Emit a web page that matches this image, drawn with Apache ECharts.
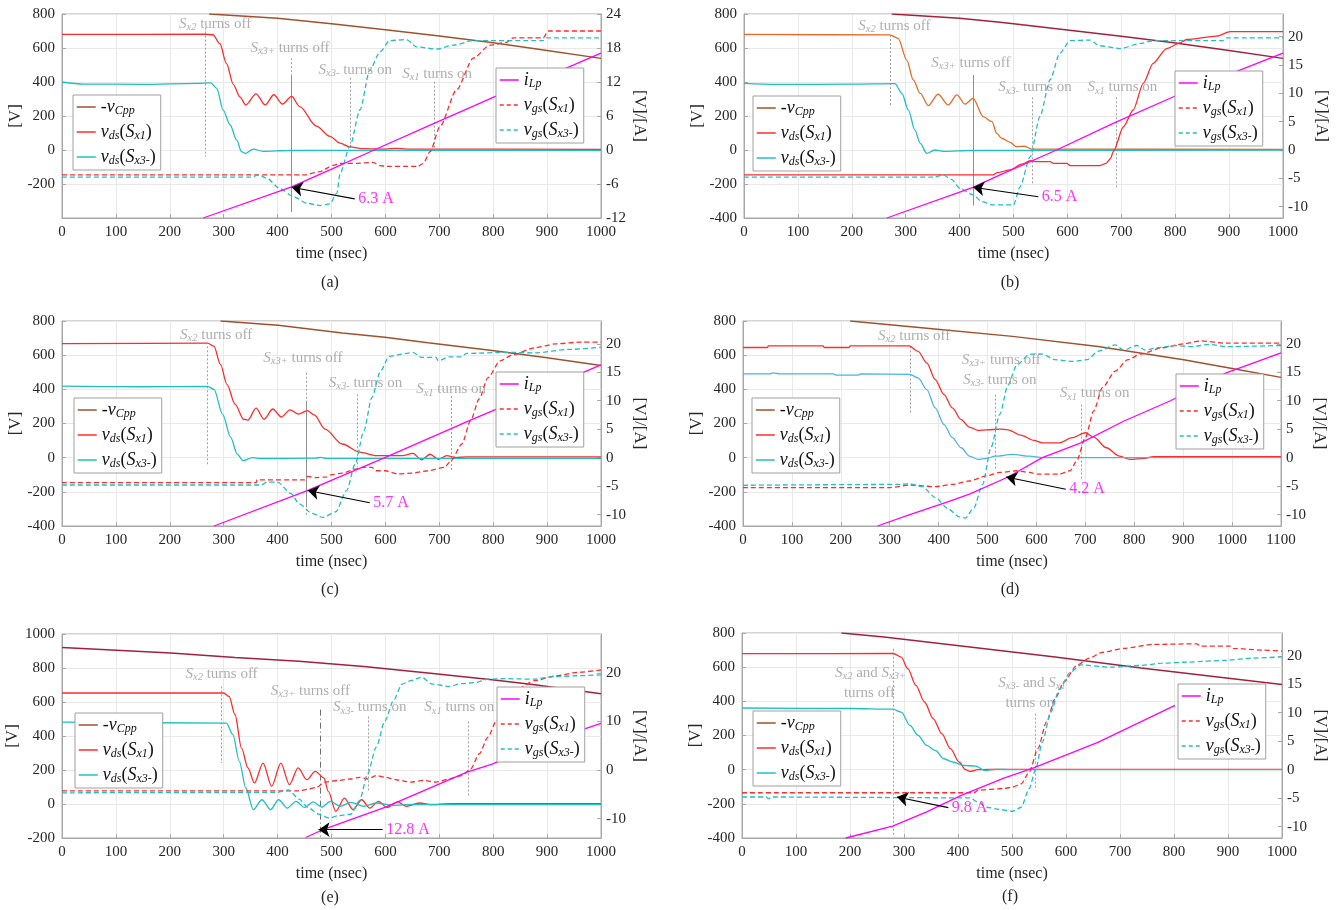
<!DOCTYPE html>
<html><head><meta charset="utf-8">
<script src="https://cdn.jsdelivr.net/npm/echarts@6/dist/echarts.min.js"></script>
<style>html,body{margin:0;padding:0;background:#fff}#c{width:1340px;height:910px}</style>
</head><body><div id="c"></div>
<script>
// ================= DATA =================
// tick labels
const X_TICKS_1000 = [0,100,200,300,400,500,600,700,800,900,1000];
const X_TICKS_1100 = [0,100,200,300,400,500,600,700,800,900,1000,1100];
const LEFT_TICKS_A = [-200,0,200,400,600,800];
const LEFT_TICKS_STD = [-400,-200,0,200,400,600,800];
const LEFT_TICKS_E = [-200,0,200,400,600,800,1000];
const RIGHT_TICKS_A = [-12,-6,0,6,12,18,24];
const RIGHT_TICKS_5 = [-10,-5,0,5,10,15,20];
const RIGHT_TICKS_E = [-10,0,10,20];

// ---- panel (a) ----  [time ns, value]
const A_VCPP = [[273,800],[400,775],[500,742],[600,707],[700,670],[800,631],[900,585],[1000,539]];
const A_VDS1 = [[0,680],[265,681],[280,678],[293,625],[305,510],[318,385],[330,313],[341,265],[360,330],[377,265],[393,325],[409,270],[426,315],[441,255],[472,140],[497,80],[516,40],[534,18],[560,8],[600,5],[620,10],[640,5],[1000,4]];
const A_VDS3 = [[0,400],[40,388],[150,386],[250,392],[276,395],[287,363],[299,235],[312,147],[324,59],[333,-10],[340,-20],[355,5],[373,-8],[420,-3],[600,-2],[1000,-2]];
const A_ILP  = [[262,-12],[426,-6.5],[497,-3.5],[579,0],[683,4.4],[800,9.3],[942,14.7],[1000,17.1]];
const A_VGS1 = [[0,-4.4],[450,-4.4],[479,-3.8],[503,-2.7],[516,-2.35],[547,-2.35],[577,-2.2],[590,-2.75],[602,-2.9],[660,-2.9],[670,-2.4],[683,-0.3],[701,4.1],[732,10.6],[763,16.2],[794,18.5],[825,19.0],[837,19.8],[893,19.8],[902,21.0],[1000,21.0]];
const A_VGS3 = [[0,-4.8],[350,-4.8],[365,-4.4],[380,-5.0],[404,-6.8],[429,-8.2],[454,-9.4],[479,-9.8],[497,-9.5],[510,-7.6],[516,-4.1],[534,0.6],[553,7.1],[571,14.1],[590,17.3],[608,19.3],[639,19.5],[658,18.2],[695,17.8],[726,18.5],[763,19.3],[893,19.3],[899,19.8],[1000,19.8]];
const A_MARKS = [[265,720,-40,'dot'],[426,540,440,'dot'],[426,440,-365,'solid'],[535,425,0,'dot'],[690,402,0,'dot']];
const A_NOTES = [[284,741,'x2off'],[423,600,'x3poff'],[544,470,'x3mon'],[696,447,'x1on']];
const A_ARROW = [[543,-288],[426,-219]];
const A_AMP = '6.3 A';

// ---- panel (b) ----
const B_VCPP = [[274,800],[400,775],[475,751],[500,742],[600,706],[700,669],[797,631],[900,585],[1000,539]];
const B_VDS1 = [[0,680],[271,677],[286,657],[302,529],[314,412],[327,333],[342,261],[360,328],[379,265],[395,324],[410,270],[425,304],[444,196],[460,167],[469,98],[478,69],[494,45],[505,20],[520,22],[535,5],[1000,3]];
const B_VDS3 = [[0,392],[60,386],[200,387],[280,390],[293,333],[305,235],[317,118],[327,39],[339,-20],[354,0],[370,-8],[420,-3],[1000,-1]];
const B_ILP  = [[265,-12],[425,-6.6],[475,-4.4],[580,0],[685,4.7],[797,9.4],[920,14.1],[1000,17.1]];
const B_VGS1 = [[0,-4.4],[462,-4.4],[470,-4.0],[494,-3.5],[515,-2.5],[531,-1.9],[540,-2.06],[568,-2.06],[574,-2.35],[599,-2.35],[605,-2.76],[660,-2.76],[672,-2.35],[680,-1.5],[685,-0.3],[704,4.1],[722,7.06],[741,11.8],[759,15.3],[784,17.9],[809,18.9],[821,19.5],[877,20.1],[902,20.9],[1000,20.9]];
const B_VGS3 = [[0,-4.8],[351,-4.8],[370,-4.4],[385,-5.2],[401,-6.8],[425,-7.9],[441,-9.1],[462,-9.7],[500,-9.7],[512,-6.5],[531,-1.2],[549,5.9],[568,12.4],[586,17.1],[605,19.3],[642,19.4],[660,18.4],[698,17.9],[735,18.8],[760,19.3],[890,19.3],[895,19.8],[1000,19.8]];
const B_MARKS = [[271,676,255,'dot'],[425,441,-327,'solid'],[535,310,-196,'dot'],[690,310,-219,'dot']];
const B_NOTES = [[279,729,'x2off'],[421,513,'x3poff'],[540,369,'x3mon'],[702,369,'x1on']];
const B_ARROW = [[546,-275],[425,-219]];
const B_AMP = '6.5 A';

// ---- panel (c) ----
const C_VCPP = [[294,800],[401,775],[520,730],[599,705],[679,672],[798,627],[900,585],[1000,540]];
const C_VDS1 = [[0,668],[270,670],[282,652],[294,546],[306,429],[321,313],[337,225],[345,220],[360,290],[375,225],[391,285],[407,238],[423,280],[439,255],[455,275],[468,250],[488,167],[520,80],[552,33],[583,12],[631,12],[651,25],[667,-13],[683,20],[698,-10],[714,12],[730,0],[750,5],[1000,5]];
const C_VDS3 = [[0,419],[150,415],[270,417],[282,400],[298,254],[313,119],[325,21],[336,-17],[353,0],[370,-5],[470,-3],[480,2],[490,-4],[1000,-4]];
const C_ILP  = [[282,-12],[455,-5.8],[599,0],[758,6.6],[1000,16.3]];
const C_VGS1 = [[0,-4.4],[360,-4.4],[362,-3.9],[450,-3.9],[456,-3.3],[470,-3.5],[490,-3.4],[500,-3.0],[520,-2.7],[545,-2.0],[555,-1.7],[575,-1.7],[583,-2.3],[600,-2.3],[623,-2.85],[650,-2.7],[679,-2.3],[710,-1.7],[722,-0.5],[742,2.4],[758,6.5],[774,10.3],[790,14.0],[813,17.0],[837,18.1],[877,19.3],[917,20.0],[964,20.3],[1000,20.3]];
const C_VGS3 = [[0,-4.8],[370,-4.8],[380,-4.3],[400,-4.3],[425,-6.3],[440,-8.1],[464,-9.8],[484,-10.5],[508,-9.5],[528,-5.8],[544,-1.1],[560,4.7],[575,10.6],[591,15.2],[607,17.8],[639,18.3],[651,18.5],[667,17.6],[694,17.6],[698,17.0],[718,17.7],[742,17.7],[750,18.3],[829,18.5],[877,18.4],[940,19.0],[1000,19.4]];
const C_MARKS = [[269,652,-47,'dot'],[454,497,-338,'dot'],[454,332,-289,'solid'],[548,371,-56,'dot'],[722,361,-76,'dot']];
const C_NOTES = [[286,720,'x2off'],[447,585,'x3poff'],[563,439,'x3mon'],[722,400,'x1on']];
const C_ARROW = [[571,-264],[456,-192]];
const C_AMP = '5.7 A';

// ---- panel (d) ----
const D_VCPP = [[219,800],[376,758],[551,710],[726,651],[901,573],[1000,522],[1100,470]];
const D_VDS1 = [[0,645],[50,645],[52,654],[164,654],[166,645],[217,645],[219,654],[340,654],[358,622],[376,554],[393,457],[411,369],[428,292],[446,223],[463,179],[481,159],[498,163],[525,167],[542,163],[568,132],[595,101],[612,87],[647,87],[673,117],[700,146],[717,120],[743,58],[770,9],[791,-10],[822,-4],[839,6],[1100,6]];
const D_VDS3 = [[0,490],[55,490],[61,496],[75,490],[185,490],[192,483],[236,483],[240,490],[341,488],[358,467],[376,398],[393,292],[411,194],[428,117],[446,58],[463,9],[481,-10],[498,-4],[516,9],[551,19],[586,9],[612,0],[1100,0]];
const D_ILP  = [[275,-12],[341,-10],[420,-7.7],[463,-6.4],[542,-3.4],[612,0],[691,2.6],[778,6.4],[874,10.0],[988,14.9],[1100,18.4]];
const D_VGS1 = [[0,-5.25],[300,-5.25],[341,-4.8],[393,-5.1],[428,-4.7],[463,-4.1],[498,-3.2],[525,-2.6],[560,-2.3],[586,-2.6],[603,-2.9],[647,-2.9],[669,-2.3],[682,-0.6],[700,3.5],[717,8.2],[735,12.3],[761,15.2],[787,17.2],[813,18.2],[857,19.3],[901,20.0],[936,20.5],[988,20.1],[1100,20.1]];
const D_VGS3 = [[0,-4.85],[315,-4.7],[341,-4.6],[367,-5.1],[393,-7.0],[420,-9.0],[442,-10.4],[455,-10.6],[472,-8.8],[490,-4.7],[507,1.75],[525,7.6],[542,12.8],[560,16.3],[586,18.2],[612,18.2],[638,17.2],[673,16.9],[704,17.2],[726,18.7],[761,19.8],[778,18.9],[805,19.7],[822,18.9],[848,19.3],[883,19.7],[918,19.5],[953,19.9],[988,19.5],[1100,19.7]];
const D_MARKS = [[341,651,253,'dot'],[516,369,-78,'dot'],[691,311,-127,'dot']];
const D_NOTES = [[350,712,'x2off'],[528,571,'x3poff'],[525,454,'x3mon'],[719,376,'x1on']];
const D_ARROW = [[660,-185],[538,-113]];
const D_AMP = '4.2 A';

// ---- panel (e) ----
const E_VCPP = [[0,921],[83,908],[202,888],[321,862],[440,839],[560,809],[679,770],[798,731],[877,702],[1000,649]];
const E_VDS1 = [[0,653],[300,653],[310,633],[321,525],[333,329],[345,212],[357,124],[373,241],[389,104],[406,241],[422,114],[438,212],[454,143],[470,192],[486,153],[494,74],[508,-43],[524,35],[540,-33],[556,25],[571,-24],[587,16],[603,-20],[623,12],[639,-14],[663,6],[687,-4],[720,2],[1000,2]];
const E_VDS3 = [[0,482],[305,476],[317,408],[329,251],[341,94],[355,-33],[371,25],[387,-33],[402,25],[418,-24],[434,16],[450,-20],[466,12],[482,-18],[498,16],[516,-14],[536,10],[560,-14],[583,6],[615,-8],[650,-3],[1000,-3]];
const E_ILP  = [[452,-13.9],[488,-12.1],[599,-7.7],[679,-3.9],[750,-0.5],[798,1.2],[877,5.0],[1000,9.6]];
const E_VGS1 = [[0,-4.3],[440,-4.3],[455,-4.0],[472,-3.6],[488,-2.5],[512,-2.15],[536,-1.85],[552,-1.5],[567,-1.85],[583,-1.16],[599,-1.5],[623,-2.06],[647,-2.5],[671,-2.15],[694,-2.5],[718,-1.85],[742,-1.16],[758,0.2],[774,3.3],[790,6.7],[806,10.1],[821,13.6],[845,16.7],[877,18.4],[917,19.4],[956,20.1],[1000,20.6]];
const E_VGS3 = [[0,-4.7],[400,-4.6],[420,-4.1],[440,-6.0],[456,-7.7],[476,-9.1],[496,-9.9],[512,-9.4],[536,-9.1],[552,-6.3],[567,-0.8],[583,4.7],[599,10.1],[615,14.3],[631,17.7],[647,18.4],[667,19.1],[687,17.7],[718,17.2],[742,17.8],[766,18.0],[790,18.7],[821,18.8],[877,18.7],[909,19.2],[956,19.4],[1000,19.6]];
const E_MARKS = [[296,692,241,'dot'],[479,555,-200,'dash'],[569,515,74,'dot'],[754,486,45,'dot']];
const E_NOTES = [[296,766,'x2off'],[461,667,'x3poff'],[571,569,'x3mon'],[737,569,'x1on']];
const E_ARROW = [[595,-151],[476,-151]];
const E_AMP = '12.8 A';

// ---- panel (f) ----
const F_VCPP = [[184,800],[263,776],[422,718],[580,659],[739,595],[897,536],[1000,498]];
const F_VDS1 = [[0,679],[280,680],[295,659],[307,591],[322,494],[338,396],[354,299],[370,211],[386,123],[402,45],[414,0],[422,-10],[437,0],[480,2],[1000,2]];
const F_VDS3 = [[0,361],[200,358],[279,354],[295,337],[311,259],[326,201],[342,142],[358,113],[374,64],[390,45],[410,25],[433,21],[449,-4],[469,2],[500,0],[1000,0]];
const F_ILP  = [[192,-12],[279,-9.9],[342,-7.4],[406,-4.5],[485,-1.5],[540,0.3],[659,4.8],[802,11.3]];
const F_VGS1 = [[0,-4.05],[430,-4.05],[437,-3.6],[485,-3.3],[501,-3.05],[517,-2.5],[532,-0.4],[548,3.7],[564,8.4],[580,12.5],[596,15.4],[620,18.3],[643,19.6],[667,20.6],[707,21.3],[762,22.0],[842,22.1],[849,21.7],[905,21.7],[909,21.3],[964,21.0],[1000,20.8]];
const F_VGS3 = [[0,-4.8],[45,-4.8],[49,-5.1],[55,-4.8],[422,-4.95],[437,-5.7],[453,-6.6],[477,-7.0],[501,-7.3],[517,-6.6],[532,-3.3],[544,0.1],[556,4.8],[572,10.1],[588,14.2],[608,17.1],[628,18.4],[683,18.0],[739,18.3],[778,18.7],[826,18.9],[897,19.2],[945,19.6],[1000,19.8]];
const F_MARKS = [[281,708,-385,'dot'],[543,328,-121,'dot']];
const F_NOTES = [[238,567,'x2x3off'],[236,450,'toff'],[537,508,'x3x1on'],[533,391,'ton']];
const F_ARROW = [[382,-222],[287,-160]];
const F_AMP = '9.8 A';

// ================= STYLE / LAYOUT =================
const FONT = "'Liberation Serif', 'Times New Roman', serif";
const AXC = '#a8a8a8', GRIDC = '#e9e9e9', TXT = '#262626', GRAY = '#9a9a9a';
const COL = {brown:'#a0522d', maroon:'#a3213c', red:'#ff2b2b', orange:'#e8692a', cyan:'#1fbfc4', sky:'#4db3e6', mag:'#ff00ff'};

const PANELS = [
 {k:'a', grid:{left:62,top:14,width:539,height:204}, xMax:1000, xT:X_TICKS_1000, yL:[-400,800], yLT:LEFT_TICKS_A, yR:[-12,24], yRT:RIGHT_TICKS_A,
  cap:[330,283], legL:[73,95], legR:[496,68], col:{vcpp:COL.brown, vds1:COL.red, vds3:COL.cyan}, vgs1Solid:false,
  s:{vcpp:A_VCPP, vds1:A_VDS1, vds3:A_VDS3, ilp:A_ILP, vgs1:A_VGS1, vgs3:A_VGS3}, marks:A_MARKS, notes:A_NOTES, arrow:A_ARROW, amp:A_AMP},
 {k:'b', grid:{left:744,top:14,width:539,height:204}, xMax:1000, xT:X_TICKS_1000, yL:[-400,800], yLT:LEFT_TICKS_STD, yR:[-12,24], yRT:RIGHT_TICKS_5,
  cap:[1010,283], legL:[753,96], legR:[1175,71], col:{vcpp:COL.maroon, vds1:COL.orange, vds3:COL.cyan}, vgs1Solid:true,
  s:{vcpp:B_VCPP, vds1:B_VDS1, vds3:B_VDS3, ilp:B_ILP, vgs1:B_VGS1, vgs3:B_VGS3}, marks:B_MARKS, notes:B_NOTES, arrow:B_ARROW, amp:B_AMP},
 {k:'c', grid:{left:62,top:321,width:539,height:205}, xMax:1000, xT:X_TICKS_1000, yL:[-400,800], yLT:LEFT_TICKS_STD, yR:[-12,24], yRT:RIGHT_TICKS_5,
  cap:[330,590], legL:[74,398], legR:[496,372], col:{vcpp:COL.brown, vds1:COL.red, vds3:COL.cyan}, vgs1Solid:false,
  s:{vcpp:C_VCPP, vds1:C_VDS1, vds3:C_VDS3, ilp:C_ILP, vgs1:C_VGS1, vgs3:C_VGS3}, marks:C_MARKS, notes:C_NOTES, arrow:C_ARROW, amp:C_AMP},
 {k:'d', grid:{left:743,top:321,width:538,height:205}, xMax:1100, xT:X_TICKS_1100, yL:[-400,800], yLT:LEFT_TICKS_STD, yR:[-12,24], yRT:RIGHT_TICKS_5,
  cap:[1010,590], legL:[752,398], legR:[1176,374], col:{vcpp:COL.brown, vds1:COL.red, vds3:COL.sky}, vgs1Solid:false,
  s:{vcpp:D_VCPP, vds1:D_VDS1, vds3:D_VDS3, ilp:D_ILP, vgs1:D_VGS1, vgs3:D_VGS3}, marks:D_MARKS, notes:D_NOTES, arrow:D_ARROW, amp:D_AMP},
 {k:'e', grid:{left:62,top:634,width:539,height:204}, xMax:1000, xT:X_TICKS_1000, yL:[-200,1000], yLT:LEFT_TICKS_E, yR:[-14,28], yRT:RIGHT_TICKS_E,
  cap:[330,898], legL:[75,713], legR:[497,687], col:{vcpp:COL.maroon, vds1:COL.red, vds3:COL.cyan}, vgs1Solid:false,
  s:{vcpp:E_VCPP, vds1:E_VDS1, vds3:E_VDS3, ilp:E_ILP, vgs1:E_VGS1, vgs3:E_VGS3}, marks:E_MARKS, notes:E_NOTES, arrow:E_ARROW, amp:E_AMP},
 {k:'f', grid:{left:742,top:633,width:540,height:205}, xMax:1000, xT:X_TICKS_1000, yL:[-400,800], yLT:LEFT_TICKS_STD, yR:[-12,24], yRT:RIGHT_TICKS_5,
  cap:[1010,897], legL:[753,711], legR:[1178,684], col:{vcpp:COL.maroon, vds1:COL.red, vds3:COL.cyan}, vgs1Solid:false,
  s:{vcpp:F_VCPP, vds1:F_VDS1, vds3:F_VDS3, ilp:F_ILP, vgs1:F_VGS1, vgs3:F_VGS3}, marks:F_MARKS, notes:F_NOTES, arrow:F_ARROW, amp:F_AMP}
];

const ANN_TXT = {
  x2off:'{g|S}{gs|x2}{gn| turns off}', x3poff:'{g|S}{gs|x3+}{gn| turns off}',
  x3mon:'{g|S}{gs|x3-}{gn| turns on}', x1on:'{g|S}{gs|x1}{gn| turns on}',
  x2x3off:'{g|S}{gs|x2}{gn| and }{g|S}{gs|x3+}', toff:'{gn|turns off}',
  x3x1on:'{g|S}{gs|x3-}{gn| and }{g|S}{gs|x1}', ton:'{gn|turns on}'
};
const RICH_GRAY = {
  g:{fontFamily:FONT, fontStyle:'italic', fontSize:15, color:GRAY, lineHeight:18},
  gs:{fontFamily:FONT, fontStyle:'italic', fontSize:10.5, color:GRAY, lineHeight:9, verticalAlign:'bottom'},
  gn:{fontFamily:FONT, fontSize:15, color:GRAY, lineHeight:18}
};
const LEG_TXT = {
  vcpp:'{n|-}{v|v}{s|Cpp}',
  vds1:'{v|v}{s|ds}{n|(}{v|S}{s|x1}{n|)}',
  vds3:'{v|v}{s|ds}{n|(}{v|S}{s|x3-}{n|)}',
  ilp:'{v|i}{s|Lp}',
  vgs1:'{v|v}{s|gs}{n|(}{v|S}{s|x1}{n|)}',
  vgs3:'{v|v}{s|gs}{n|(}{v|S}{s|x3-}{n|)}'
};
const RICH_LEG = {
  v:{fontFamily:FONT, fontStyle:'italic', fontSize:18, color:'#111', lineHeight:20},
  n:{fontFamily:FONT, fontSize:18, color:'#111', lineHeight:20},
  s:{fontFamily:FONT, fontStyle:'italic', fontSize:12, color:'#111', lineHeight:10, verticalAlign:'bottom'}
};
const LEG_STYLE = {
  vcpp:{color:COL.brown, width:1.5, type:'solid'},
  vds1:{color:COL.red, width:1.5, type:'solid'},
  vds3:{color:COL.cyan, width:1.5, type:'solid'},
  ilp:{color:COL.mag, width:1.5, type:'solid'},
  vgs1:{color:COL.red, width:1.5, type:[4,3]},
  vgs3:{color:COL.cyan, width:1.5, type:[4,3]}
};
const MARK_STYLE = {
  dot:{type:[2,2], color:'#a0a0a0', width:1, opacity:1},
  solid:{type:'solid', color:'#909090', width:1, opacity:1},
  dash:{type:[6,3,1,3], color:'#6f6f6f', width:1, opacity:1}
};

// ================= BUILD =================
const grids=[], xAxes=[], yAxes=[], series=[], legends=[], graphics=[];
const axisFont = {fontFamily:FONT, fontSize:15, color:TXT, formatter:v=>String(v)};

PANELS.forEach((p,i)=>{
  grids.push(Object.assign({show:true, borderColor:AXC, borderWidth:1, backgroundColor:'#fff', outerBoundsMode:'none', containLabel:false}, p.grid));
  xAxes.push({type:'value', gridIndex:i, min:0, max:p.xMax, interval:100,
    name:'time (nsec)', nameLocation:'middle', nameGap:28, nameTextStyle:{fontFamily:FONT, fontSize:16, color:TXT},
    axisLine:{show:true, onZero:false, lineStyle:{color:AXC}},
    axisTick:{show:true, inside:true, length:4, lineStyle:{color:AXC}},
    axisLabel:Object.assign({margin:7, customValues:p.xT}, axisFont),
    splitLine:{show:true, lineStyle:{color:GRIDC}}});
  yAxes.push({type:'value', gridIndex:i, position:'left', min:p.yL[0], max:p.yL[1], interval:200,
    name:'[V]', nameLocation:'middle', nameRotate:90, nameGap:38, nameTextStyle:{fontFamily:FONT, fontSize:17, color:TXT},
    axisLine:{show:true, onZero:false, lineStyle:{color:AXC}},
    axisTick:{show:true, inside:true, length:4, lineStyle:{color:AXC}},
    axisLabel:Object.assign({margin:7, customValues:p.yLT}, axisFont),
    splitLine:{show:true, lineStyle:{color:GRIDC}}});
  yAxes.push({type:'value', gridIndex:i, position:'right', min:p.yR[0], max:p.yR[1],
    name:'[V]/[A]', nameLocation:'middle', nameRotate:-90, nameGap:30, nameTextStyle:{fontFamily:FONT, fontSize:17, color:TXT},
    axisLine:{show:true, onZero:false, lineStyle:{color:AXC}},
    axisTick:{show:true, inside:true, length:4, customValues:p.yRT, lineStyle:{color:AXC}},
    axisLabel:Object.assign({margin:5, customValues:p.yRT}, axisFont),
    splitLine:{show:false}});

  const L = 2*i, R = 2*i+1;
  const mk = (key, yIdx, color, dashed, w, sm) => ({
    name:p.k+'.'+key, type:'line', xAxisIndex:i, yAxisIndex:yIdx, data:p.s[key],
    symbol:'none', showSymbol:false, silent:true, z:3, smooth:sm||false, smoothMonotone:'x',
    lineStyle:{color:color, width:w||1.3, type:dashed?[5,3]:'solid'}, itemStyle:{color:color}
  });
  series.push(mk('vcpp', L, p.col.vcpp, false, 1.5, false));
  series.push(mk('vds1', L, p.col.vds1, false, 1.3, 0.3));
  series.push(mk('vds3', L, p.col.vds3, false, 1.3, 0.3));
  series.push(mk('vgs1', R, COL.red, !p.vgs1Solid, 1.3, 0.25));
  series.push(mk('vgs3', R, COL.cyan, true, 1.3, 0.25));
  series.push(mk('ilp', R, COL.mag, false, 1.3, false));

  // switching-event marker lines
  series.push({type:'lines', coordinateSystem:'cartesian2d', xAxisIndex:i, yAxisIndex:L, symbol:'none', silent:true, z:2,
    data:p.marks.map(m=>({coords:[[m[0],m[1]],[m[0],m[2]]], lineStyle:MARK_STYLE[m[3]]}))});
  // arrow
  series.push({type:'lines', coordinateSystem:'cartesian2d', xAxisIndex:i, yAxisIndex:L, symbol:['none','arrow'], symbolSize:11, silent:true, z:5,
    lineStyle:{color:'#000', width:1.2, opacity:1}, data:[{coords:p.arrow}]});
  // current label
  series.push({type:'scatter', xAxisIndex:i, yAxisIndex:L, symbolSize:1, itemStyle:{color:'rgba(0,0,0,0)'}, silent:true, z:6,
    data:[{value:p.arrow[0], txt:p.amp}],
    label:{show:true, position:'right', distance:3, formatter:q=>q.data.txt, fontFamily:FONT, fontSize:16, color:COL.mag}});
  // gray annotations
  series.push({type:'scatter', xAxisIndex:i, yAxisIndex:L, symbolSize:1, itemStyle:{color:'rgba(0,0,0,0)'}, silent:true, z:6,
    data:p.notes.map(n=>({value:[n[0],n[1]], txt:ANN_TXT[n[2]]})),
    label:{show:true, position:'inside', formatter:q=>q.data.txt, fontFamily:FONT, rich:RICH_GRAY}});

  const legCommon = {orient:'vertical', selectedMode:false, backgroundColor:'#fff', borderColor:'#a0a0a0', borderWidth:1, borderRadius:0,
    padding:[3,5,3,3], itemGap:6, itemWidth:19, itemHeight:12, z:10,
    formatter:n=>LEG_TXT[n.split('.')[1]], textStyle:{fontFamily:FONT, fontSize:18, rich:RICH_LEG}};
  const legItem = k => ({name:p.k+'.'+k, lineStyle:Object.assign({opacity:1}, LEG_STYLE[k]),
    itemStyle:{color:'rgba(0,0,0,0)', borderWidth:0, opacity:0}});
  legends.push(Object.assign({left:p.legL[0], top:p.legL[1], data:['vcpp','vds1','vds3'].map(legItem)}, legCommon));
  legends.push(Object.assign({left:p.legR[0], top:p.legR[1], data:['ilp','vgs1','vgs3'].map(legItem)}, legCommon));

  graphics.push({type:'text', x:p.cap[0], y:p.cap[1], silent:true,
    style:{text:'('+p.k+')', fontFamily:FONT, fontSize:16, fill:TXT, align:'center', verticalAlign:'middle'}});
});

const chart = echarts.init(document.getElementById('c'), null, {renderer:'canvas'});
chart.setOption({
  animation:false, backgroundColor:'#fff', textStyle:{fontFamily:FONT},
  grid:grids, xAxis:xAxes, yAxis:yAxes, series:series, legend:legends, graphic:graphics
});
</script>
</body></html>
